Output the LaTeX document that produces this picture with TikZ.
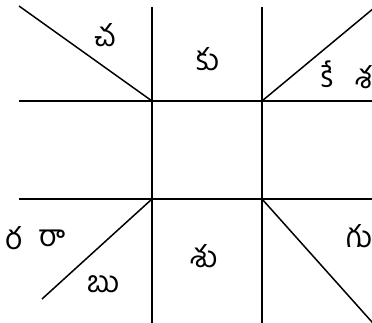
\documentclass[tikz,border=0pt]{standalone}
\usepackage{fontspec}
\newfontfamily\telugu[Script=Telugu]{Hind Guntur}
\begin{document}
\begin{tikzpicture}[x=1pt,y=-1pt,line width=1.5pt,
  g/.style={font=\telugu\fontsize{30}{30}\selectfont,inner sep=0pt}]
\useasboundingbox (0,0) rectangle (372,323);
\clip (0,0) rectangle (372,323);
% inner square corners
\coordinate (a) at (152,101); \coordinate (b) at (262,101);
\coordinate (c) at (152,199); \coordinate (d) at (262,199);
% free ends
\coordinate (at) at (152,7);  \coordinate (bt) at (262,7);
\coordinate (cb) at (152,330); \coordinate (db) at (262,330);
\coordinate (al) at (19,101); \coordinate (br) at (380,101);
\coordinate (cl) at (19,199); \coordinate (dr) at (380,199);
\coordinate (ax) at (19,6);   \coordinate (bx) at (380,3);
\coordinate (cx) at (42,299); \coordinate (dx) at (380,331);
\draw (at) -- (cb); \draw (bt) -- (db);
\draw (al) -- (br); \draw (cl) -- (dr);
\draw (a) -- (ax); \draw (b) -- (bx); \draw (c) -- (cx); \draw (d) -- (dx);
% planets
\node[g] (ch) at (105,35) {చ};
\node[g] (ku) at (208,59) {కు};
\node[g] (ke) at (328,74) {కే};
\node[g] (sa) at (364,77) {శ};
\node[g] (ra) at (14,238) {ర};
\node[g] (rh) at (52,238) {రా};
\node[g] (bu) at (104,284) {బు};
\node[g] (su) at (204,256) {శు};
\node[g] (gu) at (360,236) {గు};
\end{tikzpicture}
\end{document}
